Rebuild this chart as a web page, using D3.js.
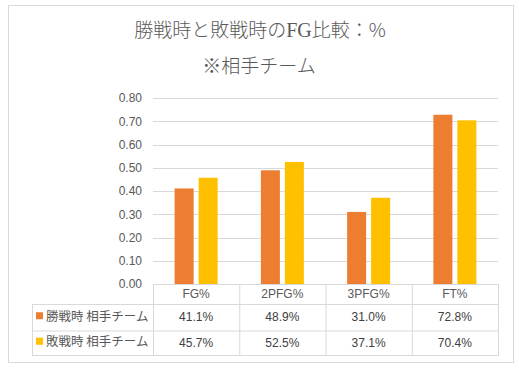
<!DOCTYPE html>
<html lang="ja">
<head>
<meta charset="utf-8">
<script src="https://cdn.jsdelivr.net/npm/d3@7"></script>
<style>
  body { margin: 0; background: #fff; font-family: "Noto Sans CJK JP", "Liberation Sans", sans-serif; }
</style>
</head>
<body>
<script>
// chart values
var categories = ["FG%", "2PFG%", "3PFG%", "FT%"];
var seriesNames = ["勝戦時 相手チーム", "敗戦時 相手チーム"];
var winValues = [0.411, 0.489, 0.310, 0.728];
var loseValues = [0.457, 0.525, 0.371, 0.704];
var tickValues = [0, 0.1, 0.2, 0.3, 0.4, 0.5, 0.6, 0.7, 0.8];
var colors = ["#ED7D31", "#FFC000"];

var w = 519, h = 368;
var plotL = 153, plotR = 498, plotT = 98, plotB = 284;
var rowH = [20, 26.5, 24.5];
var tableLeft = 32;

var svg = d3.select("body").append("svg")
  .attr("width", w)
  .attr("height", h);

// outer frame
svg.append("rect")
  .attr("x", 8.5).attr("y", 5.5)
  .attr("width", 505).attr("height", 357)
  .attr("fill", "#fff")
  .attr("stroke", "#d9d9d9");

// title
var title = svg.append("text")
  .attr("x", 260).attr("y", 37)
  .attr("text-anchor", "middle")
  .style("font-size", "19px")
  .style("font-weight", "300")
  .style("fill", "#595959");
title.append("tspan").text("勝戦時と敗戦時の");
title.append("tspan").style("font-family", "'Liberation Serif', serif").style("font-size", "20px").text("FG");
title.append("tspan").text("比較：%");

svg.append("text")
  .attr("x", 259).attr("y", 73)
  .attr("text-anchor", "middle")
  .style("font-size", "19px")
  .style("font-weight", "300")
  .style("fill", "#595959")
  .text("※相手チーム");

var xScale = d3.scaleBand().domain(categories).range([plotL, plotR]);
var inner = d3.scaleBand().domain(d3.range(2)).range([0, 43]).paddingInner(0.208);
var yScale = d3.scaleLinear().domain([0, 0.8]).range([plotB, plotT]);

// gridlines
svg.append("g")
  .selectAll("line")
  .data(tickValues)
  .enter().append("line")
  .attr("x1", plotL).attr("x2", plotR)
  .attr("y1", function(d) { return Math.round(yScale(d)) + 0.5; })
  .attr("y2", function(d) { return Math.round(yScale(d)) + 0.5; })
  .attr("stroke", "#d9d9d9");

// y axis labels
var yAxis = svg.append("g")
  .attr("transform", "translate(" + (plotL - 11) + ",0)")
  .call(d3.axisLeft(yScale).tickValues(tickValues).tickFormat(d3.format(".2f")).tickSize(0).tickPadding(0));
yAxis.select(".domain").remove();
yAxis.selectAll("text")
  .style("font-family", "'Liberation Sans', sans-serif")
  .style("font-size", "12px")
  .style("fill", "#595959");

// bars
var series = [winValues, loseValues];
series.forEach(function(vals, s) {
  svg.append("g").selectAll("rect")
    .data(vals)
    .enter().append("rect")
    .attr("x", function(d, i) { return xScale(categories[i]) + xScale.bandwidth() / 2 - 21.5 + inner(s); })
    .attr("width", inner.bandwidth())
    .attr("y", function(d) { return yScale(d); })
    .attr("height", function(d) { return plotB - yScale(d); })
    .attr("fill", colors[s]);
});

// data table
var grid = "#d9d9d9";
var y0 = plotB, y1 = plotB + rowH[0], y2 = y1 + rowH[1], y3 = y2 + rowH[2];
var t = svg.append("g");
function hline(x1, x2, y) {
  t.append("line").attr("x1", x1).attr("x2", x2).attr("y1", y + 0.5).attr("y2", y + 0.5).attr("stroke", grid);
}
function vline(x, ya, yb) {
  t.append("line").attr("x1", x + 0.5).attr("x2", x + 0.5).attr("y1", ya).attr("y2", yb).attr("stroke", grid);
}
hline(plotL, plotR, y0);
hline(tableLeft, plotR, y1);
hline(tableLeft, plotR, y2);
hline(tableLeft, plotR, y3);
vline(tableLeft, y1, y3 + 1);
categories.forEach(function(c) { vline(xScale(c), y0, y3 + 1); });
vline(plotR, y0, y3 + 1);

// header labels
t.selectAll(".head")
  .data(categories)
  .enter().append("text")
  .attr("class", "head")
  .attr("x", function(d) { return xScale(d) + xScale.bandwidth() / 2; })
  .attr("y", y0 + rowH[0] / 2 + 1)
  .attr("text-anchor", "middle")
  .attr("dominant-baseline", "middle")
  .style("font-family", "'Liberation Sans', sans-serif")
  .style("font-size", "12px")
  .style("fill", "#595959")
  .text(function(d) { return d; });

var rowMid = [y1 + rowH[1] / 2, y2 + rowH[2] / 2];
series.forEach(function(vals, s) {
  t.append("rect")
    .attr("x", 36).attr("y", rowMid[s] - 5)
    .attr("width", 7).attr("height", 7)
    .attr("fill", colors[s]);
  t.append("text")
    .attr("x", 46).attr("y", rowMid[s])
    .attr("dominant-baseline", "middle")
    .style("font-size", "12.5px")
    .style("fill", "#595959")
    .text(seriesNames[s]);
  t.selectAll(".val" + s)
    .data(vals)
    .enter().append("text")
    .attr("x", function(d, i) { return xScale(categories[i]) + xScale.bandwidth() / 2; })
    .attr("y", rowMid[s] + 1)
    .attr("text-anchor", "middle")
    .attr("dominant-baseline", "middle")
    .style("font-family", "'Liberation Sans', sans-serif")
    .style("font-size", "12px")
    .style("fill", "#404040")
    .text(function(d) { return d3.format(".1%")(d); });
});
</script>
</body>
</html>
